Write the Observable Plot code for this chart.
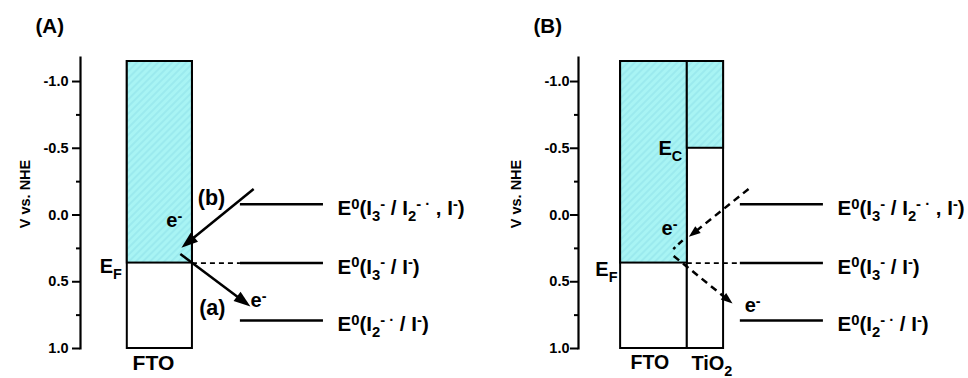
<!DOCTYPE html>
<html><head><meta charset="utf-8">
<script src="https://cdn.jsdelivr.net/npm/d3@7"></script>
<script src="https://cdn.jsdelivr.net/npm/@observablehq/plot@0.6"></script>
<style>
body{margin:0;background:#fff;}
#wrap{position:relative;width:968px;height:378px;overflow:hidden;}
.panel{position:absolute;top:0;}
svg text, svg tspan{white-space:pre;}
</style></head><body>
<div id="wrap"><div class="panel" id="pa" style="left:0px"></div><div class="panel" id="pb" style="left:498px"></div></div>
<script>
// ---- data (V vs. NHE) ----
const yTicks = [-1.0, -0.5, 0.0, 0.5, 1.0];
const yTickLabels = ["-1.0", "-0.5", "0.0", "0.5", "1.0"];
const yMinorTicks = [-0.75, -0.25, 0.25, 0.75];
const axisTop = -1.18;
const axisBottom = 1.0;
const bandTop = -1.15;
const fermiLevel = 0.36;        // E_F of FTO
const tio2Ec = -0.5;            // E_C of TiO2
const redoxNames = [
  "E^{0}(I_{3}^{-} / I_{2}^{- ·} , I^{-})",
  "E^{0}(I_{3}^{-} / I^{-})",
  "E^{0}(I_{2}^{- ·} / I^{-})"
];
const redoxPotentials = [-0.08, 0.36, 0.79];
const panelLabels = ["(A)", "(B)"];
const axisLabel = "V vs. NHE";

// materials per panel and the lower edge of their filled (conduction) region
const materialsA = ["FTO"];
const materialsB = ["FTO", "TiO_{2}"];
const filledBottomA = [fermiLevel];
const filledBottomB = [fermiLevel, tio2Ec];

// electron transfer arrows (start V, end V)
const arrowsA = [
  {name: "(b)", v1: -0.195, v2: 0.214, dashed: false},
  {name: "(a)", v1: 0.292, v2: 0.655, dashed: false}
];
const arrowsB = [
  {name: "back", v1: -0.195, v2: 0.14, dashed: true},
  {name: "forward", v1: 0.307, v2: 0.64, dashed: true}
];
const arrowTailB = [{v1: 0.19, v2: 0.255}];

// ---- layout (x in abstract units 0..100 of each panel frame) ----
const layoutA = {
  boxX: [[12.0, 28.7]],
  lineX: [41.0, 62.3], labelX: 65.9, dashX1: 28.7,
  arrowX: [[44.4, 27.2], [25.6, 42.2]],
  texts: [
    {t: "(b)", x: 33.6, v: -0.125, a: "middle", fs: 21.5},
    {t: "e^{-}", x: 22.0, v: 0.04, a: "start", fs: 20},
    {t: "(a)", x: 33.8, v: 0.70, a: "middle", fs: 21.5},
    {t: "e^{-}", x: 43.6, v: 0.64, a: "start", fs: 20},
    {t: "E_{F}", x: 10.6, v: 0.39, a: "end", fs: 20}
  ],
  mats: [{x: 18.7, fs: 21}],
  ylabDx: -55, tickDx: -12
};
const layoutB = {
  boxX: [[10.8, 27.9], [27.9, 37.2]],
  lineX: [41.5, 62.8], labelX: 66.4, dashX1: 27.9,
  arrowX: [[43.6, 29.3], [24.4, 38.5]],
  tailX: [[26.7, 24.3]],
  texts: [
    {t: "E_{C}", x: 26.6, v: -0.5, a: "end", fs: 20},
    {t: "E_{F}", x: 10.0, v: 0.41, a: "end", fs: 20},
    {t: "e^{-}", x: 21.3, v: 0.10, a: "start", fs: 20},
    {t: "e^{-}", x: 42.6, v: 0.68, a: "start", fs: 20}
  ],
  mats: [{x: 18.3, fs: 19.5}, {x: 34.2, fs: 20}],
  ylabDx: -62, tickDx: -9
};

const NS = "http://www.w3.org/2000/svg";

function richify(svg) {
  svg.querySelectorAll("text").forEach(t => {
    const s = t.textContent;
    if (!/[\^_]\{/.test(s)) return;
    const fs = parseFloat(getComputedStyle(t).fontSize) || 16;
    t.textContent = "";
    const re = /([\^_])\{([^}]*)\}|([^\^_]+)/g;
    let m, shift = 0;
    while ((m = re.exec(s))) {
      const ts = document.createElementNS(NS, "tspan");
      const target = m[1] === "^" ? -0.30 * fs : m[1] === "_" ? 0.30 * fs : 0;
      ts.setAttribute("dy", (target - shift).toFixed(2));
      shift = target;
      if (m[1]) ts.setAttribute("font-size", (0.72 * fs).toFixed(1));
      ts.textContent = m[1] ? m[2] : m[3];
      t.appendChild(ts);
    }
  });
}

function fixMarkers(svg) {
  svg.querySelectorAll("marker").forEach(mk => {
    const col = mk.getAttribute("stroke") || "black";
    const g = mk.parentNode;
    const dashed = g && g.getAttribute("stroke-dasharray");
    mk.setAttribute("viewBox", "-10 -10 20 20");
    mk.setAttribute("markerWidth", "13.34");
    mk.setAttribute("markerHeight", "13.34");
    const p = mk.querySelector("path");
    p.setAttribute("d", dashed ? "M3,0L-4,-2.6L-4,2.6Z" : "M4,0L-6,-3.5L-6,3.5Z");
    p.setAttribute("fill", col);
    p.setAttribute("stroke", "none");
  });
}

function addHatch(svg, id) {
  const defs = document.createElementNS(NS, "defs");
  defs.innerHTML = `<pattern id="${id}" patternUnits="userSpaceOnUse" width="5" height="5" patternTransform="rotate(45)">
    <rect width="5" height="5" fill="#a8f4f4"/>
    <line x1="1" y1="0" x2="1" y2="5" stroke="#92e4ea" stroke-width="1.2"/></pattern>`;
  svg.insertBefore(defs, svg.firstChild);
}

function makePanel(label, materials, filledBottom, arrows, L, hatchId, tail) {
  const boxes = materials.map((m, i) => ({name: m, x1: L.boxX[i][0], x2: L.boxX[i][1], bot: filledBottom[i]}));
  const levels = redoxPotentials.map((v, i) => ({v, name: redoxNames[i]}));
  const arr = arrows.map((a, i) => ({...a, x1: L.arrowX[i][0], x2: L.arrowX[i][1]}));
  const mats = materials.map((m, i) => ({m, ...L.mats[i]}));
  const ticks = yTicks.map((v, i) => ({v, s: yTickLabels[i]}));
  const marks = [
    Plot.rect(boxes, {x1: "x1", x2: "x2", y1: () => bandTop, y2: () => axisBottom, fill: "white", stroke: "black", strokeWidth: 2}),
    Plot.rect(boxes, {x1: "x1", x2: "x2", y1: () => bandTop, y2: "bot", fill: `url(#${hatchId})`, stroke: "black", strokeWidth: 2}),
    Plot.ruleY([fermiLevel], {x1: () => L.dashX1, x2: () => L.lineX[0], stroke: "black", strokeWidth: 1.8, strokeDasharray: "5,4"}),
    Plot.ruleY(levels, {y: "v", x1: () => L.lineX[0], x2: () => L.lineX[1], stroke: "black", strokeWidth: 2.5}),
    Plot.text(levels, {y: "v", x: () => L.labelX, text: "name", textAnchor: "start", fontSize: 20.5, dy: 4}),
    Plot.link(arr.filter(d => !d.dashed), {x1: "x1", y1: "v1", x2: "x2", y2: "v2", stroke: "black", strokeWidth: 2.5, markerEnd: "arrow"}),
    Plot.link(arr.filter(d => d.dashed), {x1: "x1", y1: "v1", x2: "x2", y2: "v2", stroke: "black", strokeWidth: 2.5, strokeDasharray: "7,5", markerEnd: "arrow"}),
    ...["start", "middle", "end"].map(a =>
      Plot.text(L.texts.filter(d => d.a === a), {x: "x", y: "v", text: "t", textAnchor: a, fontSize: "fs"})),
    Plot.text(mats, {x: "x", y: () => axisBottom, text: "m", textAnchor: "middle", lineAnchor: "top", fontSize: "fs", dy: 7}),
    Plot.frame({anchor: "left", strokeWidth: 2.2}),
    Plot.axisY(yTicks, {tickFormat: () => "", tickSize: 8, strokeWidth: 2, label: null}),
    Plot.axisY(yMinorTicks, {tickFormat: () => "", tickSize: 4, strokeWidth: 2, label: null}),
    Plot.text(ticks, {y: "v", text: "s", frameAnchor: "left", textAnchor: "end", lineAnchor: "middle", dx: L.tickDx, fontSize: 14.5}),
    Plot.text([axisLabel], {frameAnchor: "left", textAnchor: "middle", lineAnchor: "middle", rotate: -90, dx: L.ylabDx, dy: -9, fontSize: 14.5}),
    Plot.text([label], {frameAnchor: "top-left", textAnchor: "start", lineAnchor: "top", dx: -45, dy: -39, fontSize: 20.5})
  ];
  if (tail) {
    marks.push(Plot.link(tail.map((t, i) => ({...t, x1: L.tailX[i][0], x2: L.tailX[i][1]})), {x1: "x1", y1: "v1", x2: "x2", y2: "v2", stroke: "black", strokeWidth: 2.5, strokeDasharray: "6,4"}));
  }
  return Plot.plot({
    width: 470, height: 378,
    marginLeft: 80, marginRight: 0, marginTop: 57, marginBottom: 30,
    x: {domain: [0, 100], axis: null},
    y: {domain: [axisBottom, axisTop]},
    style: {fontFamily: "'Liberation Sans', Arial, sans-serif", fontWeight: "bold", color: "black", background: "white", overflow: "visible"},
    marks
  });
}

function buildPanel(el, label, materials, filledBottom, arrows, L, hatchId, tail) {
  const svg = makePanel(label, materials, filledBottom, arrows, L, hatchId, tail);
  el.appendChild(svg);
  addHatch(svg, hatchId);
  fixMarkers(svg);
  richify(svg);
}
buildPanel(document.getElementById("pa"), panelLabels[0], materialsA, filledBottomA, arrowsA, layoutA, "hatchA", null);
buildPanel(document.getElementById("pb"), panelLabels[1], materialsB, filledBottomB, arrowsB, layoutB, "hatchB", arrowTailB);
</script>
</body></html>
